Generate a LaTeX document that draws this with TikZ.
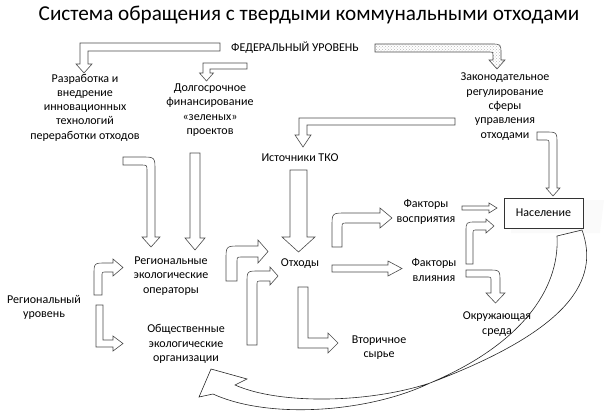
\documentclass[tikz,border=0pt]{standalone}
\usepackage{fontspec}
\setmainfont{Carlito}
\usetikzlibrary{patterns}
\begin{document}
\begin{tikzpicture}[x=1pt,y=-1pt,
  txt/.style={align=center, font=\fontsize{12}{14.3}\selectfont, inner sep=0pt},
  barrow/.style={draw=black!70, fill=white, line width=0.6pt, line join=miter},
  dotarrow/.style={draw=black!70, line width=0.6pt, preaction={fill=white}, pattern=crosshatch dots, pattern color=gray!55},
  curvearrow/.style={draw=black!85, line width=0.6pt, line join=miter},
  boxstyle/.style={draw=black!80, fill=white, line width=0.6pt, minimum width=79pt, minimum height=30pt, font=\fontsize{12}{14.3}\selectfont},
  ]
\useasboundingbox (0,0) rectangle (610,420);

% texts
\node[font=\fontsize{21.2}{25}\selectfont] (title) at (309,15) {Система обращения с твердыми коммунальными отходами};
\node[txt] (fed) at (295,48) {ФЕДЕРАЛЬНЫЙ УРОВЕНЬ};
\node[txt] (razr) at (85,107.5) {Разработка и\\внедрение\\инновационных\\технологий\\переработки отходов};
\node[txt] (dolg) at (210,110) {Долгосрочное\\финансирование\\«зеленых»\\проектов};
\node[txt] (zakon) at (505,106.5) {Законодательное\\регулирование\\сферы\\управления\\отходами};
\node[txt] (ist) at (300,158) {Источники ТКО};
\node[txt] (regop) at (171,276) {Региональные\\экологические\\операторы};
\node[txt] (obsh) at (186,344) {Общественные\\экологические\\организации};
\node[txt] (reguv) at (44,307.5) {Региональный\\уровень};
\node[txt] (otx) at (300,264) {Отходы};
\node[txt] (fvos) at (426,212) {Факторы\\восприятия};
\node[txt] (fvl) at (434,270) {Факторы\\влияния};
\node[txt] (okr) at (497,324) {Окружающая\\среда};
\node[txt] (vtor) at (379,347.5) {Вторичное\\сырье};

% Население box with faint shadow
\fill[gray!4] (514,200) -- (604,200) -- (600,233) -- (511,233) -- cycle;
\node[boxstyle] (nas) at (543.5,213) {Население};

% federal arrows
\draw[barrow] (220,43) -- (80,43) -- (80,64) -- (76,64) -- (84,73) -- (92,64) -- (88,64) -- (88,51) -- (220,51) -- cycle;
\draw[barrow] (247,63) -- (203,63) -- (203,73) -- (199.5,73) -- (206.5,81) -- (213.5,73) -- (210,73) -- (210,69) -- (247,69) -- cycle;
\draw[dotarrow] (375,44) -- (491,44) .. controls (501,44) .. (501,54) -- (501,60) -- (505,60) -- (497,69) -- (489,60) -- (493,60) -- (493,55) .. controls (493,52) .. (490,52) -- (375,52) -- cycle;

% legislation arrows
\draw[barrow] (455,118) -- (299,118) -- (299,135) -- (295,135) -- (303,147) -- (311,135) -- (307,135) -- (307,125) -- (455,125) -- cycle;
\draw[barrow] (537,132) -- (545,132) .. controls (557,132) .. (557,144) -- (557,188) -- (560,188) -- (553,196) -- (546,188) -- (549,188) -- (549,144) .. controls (549,140) .. (545,140) -- (537,140) -- cycle;

% arrows to regional operators
\draw[barrow] (123,157) -- (141,157) .. controls (155,157) .. (155,171) -- (155,237) -- (160,237) -- (151,247) -- (142,237) -- (147,237) -- (147,171) .. controls (147,165) .. (141,165) -- (123,165) -- cycle;
\draw[barrow] (190,153) -- (200,153) -- (200,238) -- (205,238) -- (195,250) -- (185,238) -- (190,238) -- cycle;

% sources -> waste
\draw[barrow] (290,170) -- (307,170) -- (307,237) -- (315,237) -- (298.5,252) -- (282,237) -- (290,237) -- cycle;

% waste -> factors
\draw[barrow] (332,265) -- (388,265) -- (388,261) -- (402,268.5) -- (388,276) -- (388,272) -- (332,272) -- cycle;
\draw[barrow] (332,247) -- (332,227) .. controls (332,213) .. (346,213) -- (380,213) -- (380,208) -- (392,218) -- (380,228) -- (380,223) -- (347,223) .. controls (342,223) .. (342,228) -- (342,247) -- cycle;

% factors -> population / environment
\draw[barrow] (462,206) -- (489,206) -- (489,203) -- (497,208) -- (489,213) -- (489,210) -- (462,210) -- cycle;
\draw[barrow] (466,264) -- (466,232) .. controls (466,222) .. (476,222) -- (486,222) -- (486,219) -- (494,226) -- (486,233) -- (486,230) -- (477,230) .. controls (473,230) .. (473,234) -- (473,264) -- cycle;
\draw[barrow] (466,270) -- (488,270) .. controls (500,270) .. (500,282) -- (500,293) -- (505,293) -- (495.5,303) -- (486,293) -- (491,293) -- (491,281) .. controls (491,277) .. (487,277) -- (466,277) -- cycle;

% regional -> waste
\draw[barrow] (226,281) -- (226,260) .. controls (226,246) .. (240,246) -- (258,246) -- (258,240) -- (268,251.5) -- (258,263) -- (258,257) -- (242,257) .. controls (237,257) .. (237,262) -- (237,281) -- cycle;
\draw[barrow] (247,345) -- (247,283) .. controls (247,271) .. (259,271) -- (270,271) -- (270,267) -- (278,276) -- (270,285) -- (270,281) -- (261,281) .. controls (257,281) .. (257,285) -- (257,345) -- cycle;

% regional level arrows
\draw[barrow] (94,295) -- (94,275) .. controls (94,263) .. (106,263) -- (113,263) -- (113,259) -- (123,267.5) -- (113,276) -- (113,272) -- (106,272) .. controls (102,272) .. (102,276) -- (102,295) -- cycle;
\draw[barrow] (96,305) -- (103,305) -- (103,340) -- (113,340) -- (113,336) -- (123,343.5) -- (113,351) -- (113,347) -- (96,347) -- cycle;

% waste -> secondary raw materials
\draw[barrow] (298,287) -- (308,287) -- (308,338) -- (328,338) -- (328,333) -- (338,343) -- (328,353) -- (328,348) -- (298,348) -- cycle;

% big curved arrow from population
\draw[curvearrow] (557,236) -- (582,230) .. controls (600,280) and (570,330) .. (430,383) .. controls (370,403) and (280,405) .. (235,385) -- (247,379) -- (211,369) -- (199,397) -- (213,394) .. controls (270,420) and (370,412) .. (430,383) .. controls (520,345) and (560,290) .. (557,236) -- cycle;
\end{tikzpicture}
\end{document}
